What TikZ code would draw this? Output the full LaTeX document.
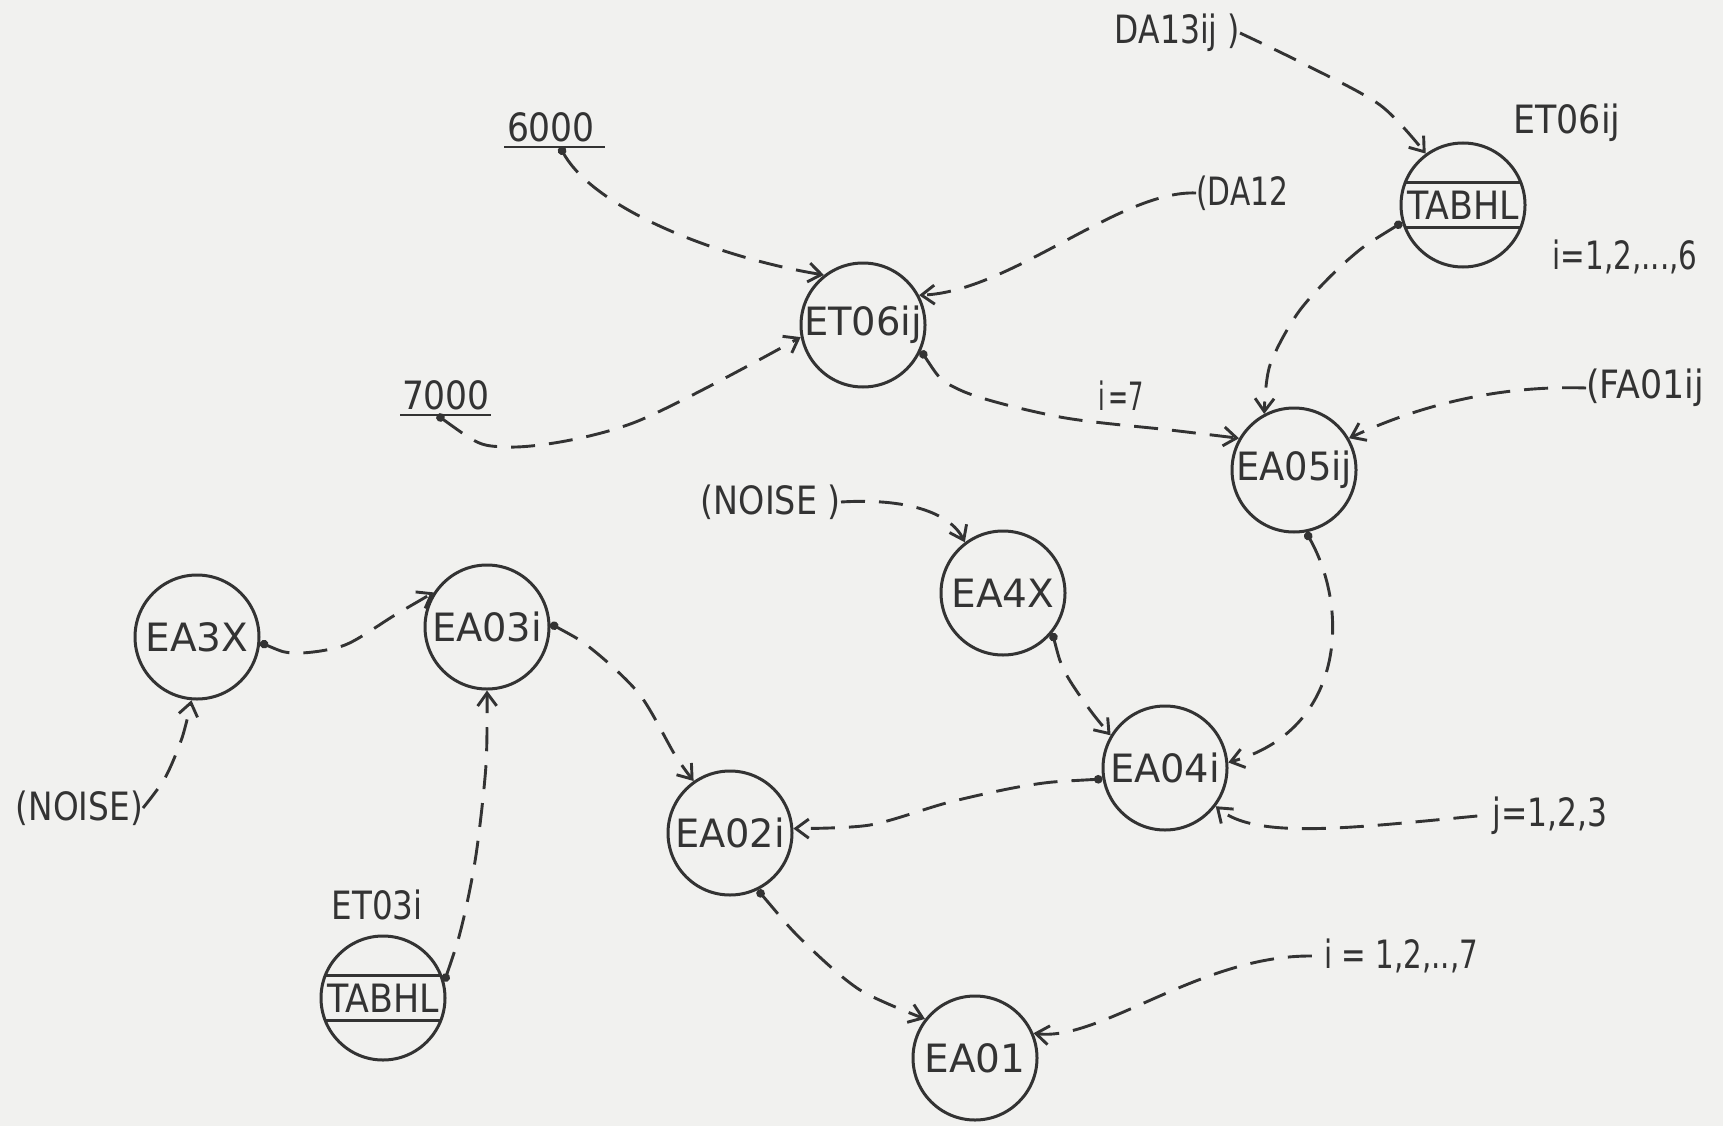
\documentclass[tikz,border=0pt]{standalone}
\usepackage{fontspec}
\usepackage{graphicx}
\setmainfont{DejaVu Sans}
\usetikzlibrary{arrows.meta}
\definecolor{ink}{HTML}{333333}
\definecolor{paper}{HTML}{F1F1EF}
\newcommand{\fitw}[2]{\resizebox{#1}{\height}{#2}}
\begin{document}
\begin{tikzpicture}[x=1pt,y=-1pt,
  every node/.style={font=\fontsize{39}{41}\selectfont, text=ink, inner sep=0pt},
  state/.style={circle, draw=ink, line width=3pt, minimum size=124pt, inner sep=0pt},
  conn/.style={draw=ink, line width=2.9pt, dash pattern=on 24pt off 14pt,
    -{Straight Barb[length=13pt,width=19pt]}},
  connd/.style={conn, {Circle[length=8.5pt]}-{Straight Barb[length=13pt,width=19pt]}},
  chord/.style={draw=ink, line width=2.8pt},
  ul/.style={draw=ink, line width=2.8pt},
]
\fill[paper] (0,0) rectangle (1723,1126);
\useasboundingbox (0,0) rectangle (1723,1126);

% states
\node[state] (et06) at (863,325) {\fitw{118pt}{ET06ij}};
\node[state] (tabt) at (1463,205) {\fitw{112pt}{TABHL}};
\node[state] (ea05) at (1294,470) {\fitw{116pt}{EA05ij}};
\node[state] (ea4x) at (1003,593) {EA4X};
\node[state] (ea04) at (1165,768) {\fitw{110pt}{EA04i}};
\node[state] (ea02) at (730,833) {\fitw{110pt}{EA02i}};
\node[state] (ea01) at (975,1058) {EA01};
\node[state] (ea03) at (487,627) {\fitw{110pt}{EA03i}};
\node[state] (ea3x) at (197,637) {EA3X};
\node[state] (tabb) at (383,998) {\fitw{112pt}{TABHL}};

\draw[chord] (tabt.159) -- (tabt.21);
\draw[chord] (tabt.-159) -- (tabt.-21);
\draw[chord] (tabb.159) -- (tabb.21);
\draw[chord] (tabb.-159) -- (tabb.-21);

% labels
\node[anchor=east] (da13) at (1240,33) {\fitw{125pt}{DA13ij )}};
\node (et06lbl) at (1567,123) {\fitw{107pt}{ET06ij}};
\node (irange) at (1625,257) {\fitw{145pt}{i=1,2,...,6}};
\node[anchor=west] (da12) at (1196,193) {\fitw{92pt}{(DA12}};
\node (n6000) at (551,127) {\fitw{88pt}{6000}};
\node (n7000) at (446,395) {\fitw{88pt}{7000}};
\node (i7) at (1121,396) {\fitw{46pt}{i\,=7}};
\node[anchor=west] (fa01) at (1586,388) {\fitw{118pt}{(FA01ij}};
\node[anchor=east] (noise1) at (841,502) {\fitw{140pt}{(NOISE )}};
\node[anchor=east] (noise2) at (143,808) {\fitw{127pt}{(NOISE)}};
\node (jr) at (1550,816) {\fitw{115pt}{j=1,2,3}};
\node (ir) at (1401,956) {\fitw{154pt}{i = 1,2,..,7}};
\node (et03lbl) at (377,905) {\fitw{91pt}{ET03i}};

\draw[ul] (504,147) -- (605,147);
\draw[ul] (400,415) -- (491,415);
\coordinate (s6000) at (560,147);
\coordinate (s7000) at (437,415);

% connectors
\draw[connd] (s6000) .. controls (595,210) and (720,258) .. (et06.128);
\draw[connd] plot[smooth] coordinates {(s7000) (507,447) (633,423) (et06.191)};
\draw[conn] (da12.west) .. controls (1120,190) and (1010,292) .. (et06.28);
\draw[connd] plot[smooth] coordinates {(et06.-24) (960,390) (1060,417) (1170,430) (ea05.150)};
\draw[conn] plot[smooth] coordinates {(da13.east) (1300,62) (1380,105) (tabt.126)};
\draw[connd] plot[smooth] coordinates {(tabt.196) (1350,258) (1300,310) (1270,365) (ea05.118)};
\draw[conn] (fa01.west) .. controls (1500,385) and (1420,405) .. (ea05.30);
\draw[connd] (ea05.281) .. controls (1350,610) and (1345,730) .. (ea04.5);
\draw[conn] (noise1.east) .. controls (905,498) and (950,512) .. (ea4x.127);
\draw[connd] plot[smooth] coordinates {(ea4x.-39) (1065,672) (1090,710) (ea04.149)};
\draw[conn] ([xshift=-15pt]jr.west) .. controls (1350,828) and (1255,840) .. (ea04.-37);
\draw[connd] plot[smooth] coordinates {(ea04.190) (1030,785) (950,802) (870,825) (ea02.4)};
\draw[connd] plot[smooth] coordinates {(ea03.3) (593,650) (640,695) (675,755) (ea02.125)};
\draw[connd] plot[smooth] coordinates {(ea3x.-5) (296,653) (345,645) (395,615) (ea03.147)};
\draw[conn] plot[smooth] coordinates {(noise2.east) (165,778) (182,738) (ea3x.265)};
\draw[connd] plot[smooth] coordinates {(tabb.15) (462,925) (476,855) (486,765) (ea03.270)};
\draw[connd] plot[smooth] coordinates {(ea02.-64) (805,943) (860,990) (ea01.142)};
\draw[conn] ([xshift=-12pt]ir.west) .. controls (1200,955) and (1100,1042) .. (ea01.23);
\end{tikzpicture}
\end{document}
